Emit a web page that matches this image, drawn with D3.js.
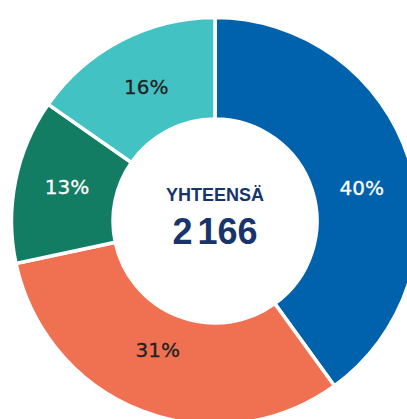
<!DOCTYPE html>
<html><head><meta charset="utf-8">
<script src="https://cdn.jsdelivr.net/npm/d3@7"></script>
<style>html,body{margin:0;padding:0;background:#fff;overflow:hidden}</style>
</head><body>
<svg id="chart" width="407" height="419"></svg>
<script>
// Data (estimated counts summing to total)
const categories = ["A", "B", "C", "D"];
const counts = [867, 685, 283, 331];
const labels = ["40%", "31%", "13%", "16%"];
const totalTitle = "YHTEENSÄ";
const totalValue = "2 166";

// Styles / layout
const colors = ["#0061ad", "#f07052", "#137d64", "#43c2c3"];
const labelColors = ["#ffffff", "#222222", "#ffffff", "#222222"];
const labelNudge = [[3, 13], [-3, -12], [0, -4], [1, 0]];
const cx = 215, cy = 221, rOuter = 203.5, rInner = 102, rLabel = 151;

const svg = d3.select("#chart");
const g = svg.append("g").attr("transform", `translate(${cx},${cy})`);

const pie = d3.pie().sort(null).value(d => d);
const arcs = pie(counts);
const arc = d3.arc().innerRadius(rInner).outerRadius(rOuter);
const labelArc = d3.arc().innerRadius(rLabel).outerRadius(rLabel);

g.selectAll("path.slice").data(arcs).join("path")
  .attr("class", "slice")
  .attr("d", arc)
  .attr("fill", (d, i) => colors[i])
  .attr("stroke", "#fff")
  .attr("stroke-width", 3.5)
  .attr("stroke-linejoin", "miter");

g.selectAll("text.pct").data(arcs).join("text")
  .attr("class", "pct")
  .attr("transform", (d, i) => {
    const c = labelArc.centroid(d);
    return `translate(${c[0] + labelNudge[i][0]},${c[1] + labelNudge[i][1]})`;
  })
  .attr("text-anchor", "middle")
  .attr("dy", "0.36em")
  .attr("font-family", "DejaVu Sans, sans-serif")
  .attr("font-size", 20)
  .attr("fill", (d, i) => labelColors[i])
  .attr("stroke", (d, i) => labelColors[i])
  .attr("stroke-width", 0.3)
  .text((d, i) => labels[i]);

g.append("text")
  .attr("x", 0).attr("y", -20.5)
  .attr("text-anchor", "middle")
  .attr("font-family", "Liberation Sans, Arial, sans-serif")
  .attr("font-weight", "bold")
  .attr("font-size", 18)
  .attr("fill", "#17346b")
  .text(totalTitle);

g.append("text")
  .attr("x", 0).attr("y", 23)
  .attr("text-anchor", "middle")
  .attr("font-family", "Liberation Sans, Arial, sans-serif")
  .attr("font-weight", "bold")
  .attr("font-size", 36)
  .attr("word-spacing", "-5px")
  .attr("fill", "#17346b")
  .text(totalValue);
</script>
</body></html>
